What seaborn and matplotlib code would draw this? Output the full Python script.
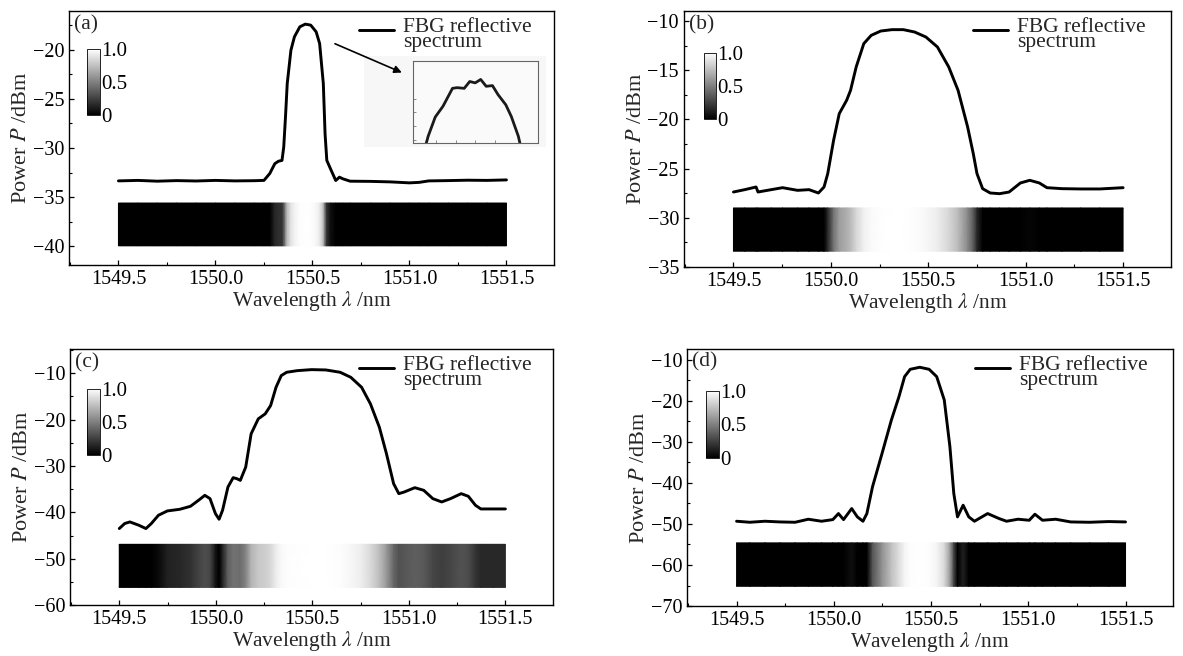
import numpy as np
import pandas as pd
import seaborn as sns
import matplotlib.pyplot as plt
from matplotlib.ticker import MultipleLocator, FormatStrFormatter
from matplotlib.patches import Rectangle

sns.set_style('ticks')
plt.rcParams['font.family'] = ['Liberation Serif', 'DejaVu Serif']
plt.rcParams['mathtext.fontset'] = 'stix'
plt.rcParams['xtick.direction'] = 'in'
plt.rcParams['ytick.direction'] = 'in'
plt.rcParams['axes.edgecolor'] = 'black'
plt.rcParams['xtick.color'] = 'black'
plt.rcParams['ytick.color'] = 'black'

# ---- data ----
wl_a = [1549.50, 1549.60, 1549.70, 1549.80, 1549.90, 1550.00, 1550.10, 1550.20, 1550.25, 1550.28,
        1550.306, 1550.325, 1550.343, 1550.352, 1550.361, 1550.370, 1550.389, 1550.407, 1550.435, 1550.463,
        1550.491, 1550.519, 1550.537, 1550.556, 1550.565, 1550.574, 1550.593, 1550.62, 1550.639, 1550.657,
        1550.694, 1550.80, 1550.90, 1551.00, 1551.05, 1551.10, 1551.20, 1551.30, 1551.40, 1551.50]
p_a = [-33.35, -33.30, -33.38, -33.32, -33.36, -33.30, -33.35, -33.33, -33.30, -32.6,
       -31.6, -31.35, -31.27, -29.9, -26.86, -23.46, -20.07, -18.71, -17.69, -17.42,
       -17.52, -18.2, -19.39, -23.46, -28.56, -31.27, -32.12, -33.31, -32.97, -33.14,
       -33.38, -33.40, -33.45, -33.55, -33.50, -33.35, -33.32, -33.28, -33.30, -33.25]

wl_b = [1549.50, 1549.558, 1549.616, 1549.626, 1549.694, 1549.752, 1549.829, 1549.888, 1549.936, 1549.965,
        1549.984, 1550.014, 1550.043, 1550.081, 1550.101, 1550.130, 1550.169, 1550.207, 1550.256, 1550.314,
        1550.372, 1550.430, 1550.488, 1550.547, 1550.605, 1550.653, 1550.702, 1550.731, 1550.750, 1550.779,
        1550.818, 1550.866, 1550.915, 1550.973, 1551.021, 1551.070, 1551.109, 1551.186, 1551.283, 1551.380,
        1551.500]
p_b = [-27.38, -27.14, -26.87, -27.38, -27.14, -26.94, -27.21, -27.14, -27.48, -26.87,
       -25.51, -22.13, -19.42, -18.06, -17.05, -14.67, -12.30, -11.46, -11.02, -10.88,
       -10.88, -11.12, -11.63, -12.64, -14.67, -17.05, -20.77, -23.48, -25.51, -27.04,
       -27.48, -27.55, -27.38, -26.46, -26.19, -26.46, -26.94, -27.04, -27.07, -27.07,
       -26.94]

wl_c = [1549.500, 1549.528, 1549.555, 1549.601, 1549.638, 1549.666, 1549.703, 1549.749, 1549.814, 1549.869,
        1549.915, 1549.943, 1549.970, 1549.998, 1550.017, 1550.035, 1550.063, 1550.090, 1550.109, 1550.127,
        1550.155, 1550.183, 1550.220, 1550.256, 1550.284, 1550.312, 1550.339, 1550.367, 1550.422, 1550.496,
        1550.570, 1550.644, 1550.699, 1550.755, 1550.801, 1550.847, 1550.884, 1550.921, 1550.948, 1550.976,
        1551.031, 1551.077, 1551.124, 1551.170, 1551.216, 1551.271, 1551.308, 1551.345, 1551.373, 1551.437,
        1551.500]
p_c = [-43.5, -42.42, -42.07, -42.78, -43.5, -42.42, -40.63, -39.70, -39.34, -38.69,
       -37.26, -36.33, -37.04, -40.27, -41.49, -39.56, -34.53, -32.52, -32.74, -33.10,
       -30.23, -23.06, -19.83, -18.75, -16.96, -13.01, -10.50, -9.78, -9.43, -9.21,
       -9.28, -9.78, -10.86, -13.01, -16.60, -21.62, -27.36, -33.82, -35.97, -35.61,
       -34.68, -35.25, -37.04, -37.76, -37.04, -35.97, -36.54, -38.48, -39.27, -39.27,
       -39.27]

wl_d = [1549.500, 1549.568, 1549.646, 1549.723, 1549.801, 1549.869, 1549.937, 1549.995, 1550.024, 1550.050,
        1550.092, 1550.121, 1550.150, 1550.170, 1550.199, 1550.248, 1550.296, 1550.335, 1550.364, 1550.393,
        1550.442, 1550.490, 1550.529, 1550.568, 1550.597, 1550.617, 1550.636, 1550.665, 1550.694, 1550.723,
        1550.791, 1550.850, 1550.888, 1550.947, 1551.005, 1551.034, 1551.073, 1551.141, 1551.218, 1551.316,
        1551.413, 1551.500]
p_d = [-49.33, -49.58, -49.33, -49.50, -49.58, -48.84, -49.33, -48.93, -47.46, -48.93,
       -46.24, -48.27, -49.33, -47.46, -40.94, -32.80, -24.66, -18.96, -14.07, -12.28,
       -11.79, -12.28, -14.07, -19.77, -31.17, -42.57, -48.27, -45.42, -48.27, -49.33,
       -47.46, -48.68, -49.33, -48.84, -49.09, -47.62, -49.09, -48.84, -49.50, -49.58,
       -49.41, -49.50]

# zoomed peak shown in the inset of (a)
wl_zoom = [1550.414, 1550.420, 1550.429, 1550.439, 1550.451, 1550.457, 1550.466, 1550.473, 1550.480,
           1550.487, 1550.494, 1550.502, 1550.509, 1550.519, 1550.526, 1550.535, 1550.540]
p_zoom = [-18.55, -18.30, -18.02, -17.86, -17.60, -17.59, -17.60, -17.50, -17.52,
          -17.47, -17.57, -17.56, -17.69, -17.84, -18.01, -18.30, -18.55]

tags = ['(a)', '(b)', '(c)', '(d)']
ylims = [(-41.9, -16.1), (-35, -9.0), (-60, -4.8), (-70, -7.3)]
ysteps = [5, 5, 10, 10]
strips = [(-39.95, -35.6), (-33.4, -29.0), (-56.2, -46.9), (-65.2, -54.6)]
rects = [[0.0583, 0.596, 0.410, 0.387], [0.578, 0.593, 0.4117, 0.390],
         [0.0592, 0.0777, 0.408, 0.390], [0.5807, 0.0762, 0.411, 0.392]]
cbar_pos = [[0.038, 0.59, 0.026, 0.26], [0.041, 0.578, 0.025, 0.26],
            [0.036, 0.586, 0.026, 0.26], [0.040, 0.576, 0.025, 0.26]]
leg_x = [0.583, 0.579, 0.584, 0.578]

fig = plt.figure(figsize=(11.83, 6.56), dpi=100)
legends = []

for i, (wl, p) in enumerate([(wl_a, p_a), (wl_b, p_b), (wl_c, p_c), (wl_d, p_d)]):
    ax = fig.add_axes(rects[i])
    df = pd.DataFrame({'wl': wl, 'p': p})

    # grey-scale strip of normalised reflectivity
    pa = np.array(p)
    norm = (pa - pa.min()) / (pa.max() - pa.min())
    shade = np.clip((norm - 0.08) / 0.92, 0, 1) ** 0.6
    X = np.vstack([wl, wl])
    Y = np.vstack([np.full(len(wl), strips[i][0]), np.full(len(wl), strips[i][1])])
    C = np.vstack([shade, shade])
    mesh = ax.pcolormesh(X, Y, C, cmap='gray', vmin=0, vmax=1, shading='gouraud', zorder=1)

    sns.lineplot(data=df, x='wl', y='p', ax=ax, color='black', lw=2.1,
                 label='FBG reflective\nspectrum', zorder=3)

    ax.set_xlim(1549.245, 1551.745)
    ax.set_ylim(*ylims[i])
    ax.xaxis.set_major_locator(MultipleLocator(0.5))
    ax.xaxis.set_minor_locator(MultipleLocator(0.25))
    ax.xaxis.set_major_formatter(FormatStrFormatter('%.1f'))
    ax.yaxis.set_major_locator(MultipleLocator(ysteps[i]))
    ax.yaxis.set_minor_locator(MultipleLocator(ysteps[i] / 2))
    ax.tick_params(which='major', length=3.5, width=0.9, labelsize=14.5, pad=3.5)
    ax.tick_params(which='minor', length=2.5, width=0.8)
    for s in ax.spines.values():
        s.set_linewidth(1.0)
    ax.set_xlabel(r'Wavelength $\lambda$ /nm', fontsize=15.5, labelpad=0)
    ax.set_ylabel(r'Power $P$ /dBm', fontsize=16, labelpad=1)
    ax.text(0.01, 0.985, tags[i], transform=ax.transAxes, ha='left', va='top', fontsize=15.5)

    leg = ax.legend(loc='upper left', bbox_to_anchor=(leg_x[i], 1.0), frameon=False,
                    handlelength=1.65, handletextpad=0.4, fontsize=15.5,
                    borderaxespad=0.32, borderpad=0)
    leg.get_texts()[0].set_linespacing(0.72)
    legends.append(leg)

    cax = ax.inset_axes(cbar_pos[i])
    cb = fig.colorbar(mesh, cax=cax, ticks=[0, 0.5, 1])
    cb.ax.set_yticklabels(['0', '0.5', '1.0'])
    cb.ax.tick_params(length=0, labelsize=15, pad=1)
    cb.outline.set_linewidth(0.6)

    if i == 0:
        ax.add_patch(Rectangle((0.608, 0.465), 0.375, 0.36, transform=ax.transAxes,
                               facecolor='#f7f7f7', edgecolor='none', zorder=0))
        ax.annotate('', xy=(1550.974, -22.45), xytext=(1550.603, -19.3),
                    arrowprops=dict(arrowstyle='-|>', color='black', lw=1.2,
                                    mutation_scale=11))
        ins = fig.add_axes([0.3487, 0.782, 0.106, 0.125])
        sns.lineplot(x=wl_zoom, y=p_zoom, ax=ins, color='#1a1a1a', lw=2)
        ins.set_xlim(1550.400, 1550.560)
        ins.set_ylim(-18.4, -17.2)
        ins.set_facecolor('#fafafa')
        ins.set_xticks([1550.43, 1550.455, 1550.48, 1550.505])
        ins.set_yticks([-18.35, -18.15, -17.95, -17.75])
        ins.tick_params(length=2, width=0.6, colors='#777777', labelleft=False, labelbottom=False)
        for s in ins.spines.values():
            s.set_color('#666666')
            s.set_linewidth(0.8)
        ins.set_xlabel('')
        ins.set_ylabel('')

# move each legend handle up so it sits beside the first text line
fig.canvas.draw()
for leg in legends:
    bb = leg.get_texts()[0].get_window_extent()
    h = leg.legend_handles[0]
    yd = h.get_ydata()
    cur = h.get_transform().transform((h.get_xdata()[0], yd[0]))[1]
    target = bb.y1 - 12
    shift = (target - cur) * 72.0 / fig.dpi
    h.set_ydata([v + shift for v in yd])

fig.savefig('out.png', dpi=100)
